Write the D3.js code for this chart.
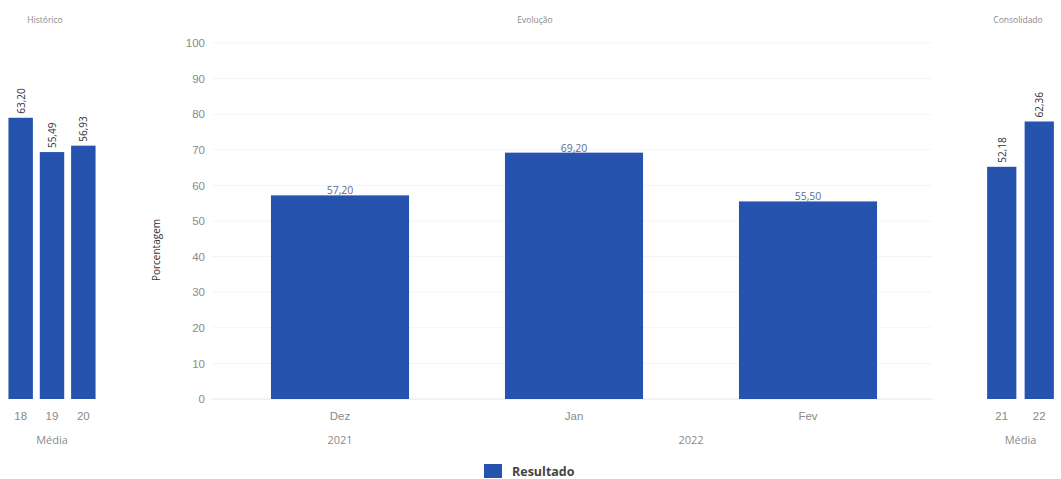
<!DOCTYPE html>
<html><head><meta charset="utf-8">
<script src="https://cdn.jsdelivr.net/npm/d3@7"></script>
<style>
html,body{margin:0;padding:0;background:#fff;}
svg{display:block;font-family:"Open Sans","Noto Sans",sans-serif;}
</style></head>
<body>
<svg id="c" width="1061" height="479"></svg>
<script>
// Data
const histCategories = ["18", "19", "20"];
const histValues = [63.20, 55.49, 56.93];
const evoCategories = ["Dez", "Jan", "Fev"];
const evoYears = ["2021", "2022", "2022"];
const evoValues = [57.20, 69.20, 55.50];
const consCategories = ["21", "22"];
const consValues = [52.18, 62.36];
const yTicks = [0, 10, 20, 30, 40, 50, 60, 70, 80, 90, 100];
const seriesName = "Resultado";

const BAR = "#2653ad";
const fmt = v => v.toFixed(2).replace(".", ",");
const svg = d3.select("#c");

const yBottom = 399, yTop = 43;

// ---- Main (Evolução)
const x = d3.scaleBand().domain(evoCategories).range([223, 925]).paddingInner(0.41).paddingOuter(0.205);
const y = d3.scaleLinear().domain([0, 100]).range([yBottom, yTop]);

const grid = svg.append("g");
grid.selectAll("line").data(yTicks).join("line")
  .attr("x1", 212).attr("x2", 932)
  .attr("y1", d => y(d)).attr("y2", d => y(d))
  .attr("stroke", d => d === 0 ? "#e6e6e6" : "#f4f4f4").attr("stroke-width", 1);

const yAxis = svg.append("g").attr("transform", "translate(205,0)")
  .call(d3.axisLeft(y).tickValues(yTicks).tickSize(0).tickPadding(0));
yAxis.select(".domain").remove();
yAxis.selectAll("text").attr("fill", "#8a8a8a").attr("font-size", 11.5);

svg.append("text").attr("transform", "translate(160,250) rotate(-90)")
  .attr("text-anchor", "middle").attr("font-size", 10).attr("fill", "#333")
  .text("Porcentagem");

svg.append("g").selectAll("rect").data(evoValues).join("rect")
  .attr("x", (d, i) => x(evoCategories[i])).attr("width", x.bandwidth())
  .attr("y", d => y(d)).attr("height", d => y(0) - y(d)).attr("fill", BAR);

svg.append("g").selectAll("text").data(evoValues).join("text")
  .attr("x", (d, i) => x(evoCategories[i]) + x.bandwidth() / 2)
  .attr("y", d => y(d) - 1).attr("text-anchor", "middle")
  .attr("font-size", 10.5).attr("fill", "#5a6f95").text(d => fmt(d));

const xAxis = svg.append("g").attr("transform", `translate(0,${yBottom})`)
  .call(d3.axisBottom(x).tickSize(0).tickPadding(13));
xAxis.select(".domain").remove();
xAxis.selectAll("text").attr("fill", "#8a8a8a").attr("font-size", 11.5);

// year labels grouped
const yearGroups = d3.groups(evoCategories.map((c, i) => ({c, yr: evoYears[i]})), d => d.yr);
svg.append("g").selectAll("text").data(yearGroups).join("text")
  .attr("x", g => d3.mean(g[1], d => x(d.c) + x.bandwidth() / 2))
  .attr("y", 444).attr("text-anchor", "middle")
  .attr("font-size", 11).attr("fill", "#8a8a8a").text(g => g[0]);

svg.append("text").attr("x", 535).attr("y", 23).attr("text-anchor", "middle")
  .attr("font-size", 8.5).attr("fill", "#8a8a8a").text("Evolução");

// Legend
svg.append("rect").attr("x", 484).attr("y", 464).attr("width", 18).attr("height", 14).attr("fill", BAR);
svg.append("text").attr("x", 512).attr("y", 476).attr("font-size", 12.5).attr("font-weight", "bold")
  .attr("fill", "#444").text(seriesName);

// ---- Side charts
const ys = d3.scaleLinear().domain([0, 80]).range([yBottom, yTop]);

function side(cats, vals, r0, r1, title, titleX) {
  const xs = d3.scaleBand().domain(cats).range([r0, r1]).paddingInner(0.22).paddingOuter(0.11);
  const g = svg.append("g");
  g.selectAll("rect").data(vals).join("rect")
    .attr("x", (d, i) => xs(cats[i])).attr("width", xs.bandwidth())
    .attr("y", d => ys(d)).attr("height", d => ys(0) - ys(d)).attr("fill", BAR);
  g.selectAll("text.v").data(vals).join("text").attr("class", "v")
    .attr("transform", (d, i) => `translate(${xs(cats[i]) + xs.bandwidth() / 2 + 4},${ys(d) - 4}) rotate(-90)`)
    .attr("font-size", 10).attr("fill", "#333").text(d => fmt(d));
  const ax = g.append("g").attr("transform", `translate(0,${yBottom})`)
    .call(d3.axisBottom(xs).tickSize(0).tickPadding(13));
  ax.select(".domain").remove();
  ax.selectAll("text").attr("fill", "#8a8a8a").attr("font-size", 11.5);
  g.append("text").attr("x", (r0 + r1) / 2).attr("y", 444).attr("text-anchor", "middle")
    .attr("font-size", 11).attr("fill", "#8a8a8a").text("Média");
  g.append("text").attr("x", titleX).attr("y", 23).attr("text-anchor", "middle")
    .attr("font-size", 8.5).attr("fill", "#8a8a8a").text(title);
}
side(histCategories, histValues, 5, 99, "Histórico", 45);
side(consCategories, consValues, 983, 1058, "Consolidado", 1018);
</script>
</body></html>
